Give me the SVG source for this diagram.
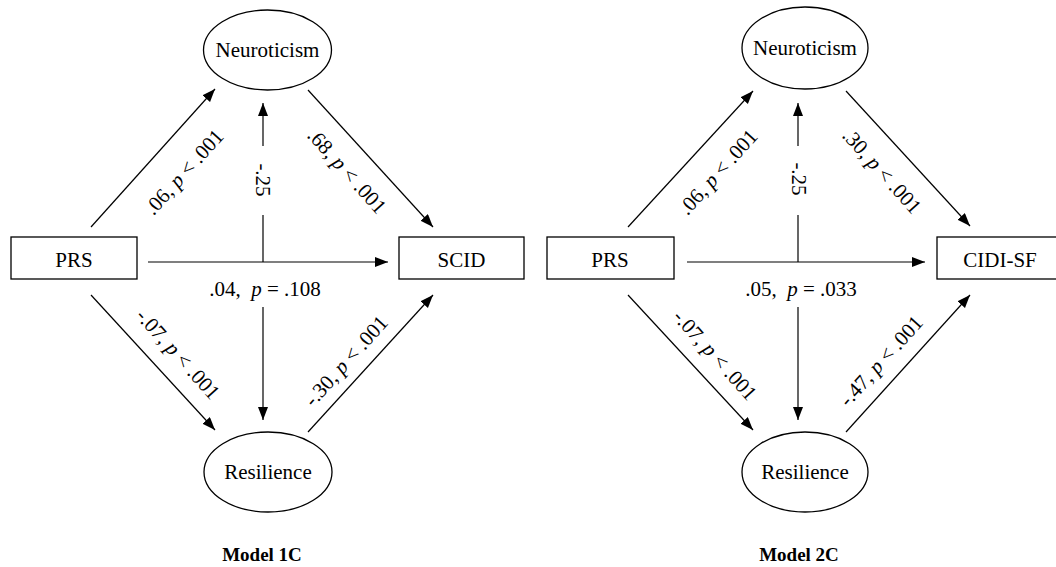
<svg xmlns="http://www.w3.org/2000/svg" width="1056" height="567" viewBox="0 0 1056 567">
  <style>
    .shape { fill: #fff; stroke: #000; stroke-width: 1.3; }
    .node-text { font-family: "Liberation Serif", "Times New Roman", serif; font-size: 21px; fill: #000; text-anchor: middle; }
    .lbl { font-family: "Liberation Serif", "Times New Roman", serif; font-size: 21px; fill: #000; text-anchor: middle; white-space: pre; }
    .it { font-style: italic; }
    .title { font-family: "Liberation Serif", "Times New Roman", serif; font-size: 19px; font-weight: bold; fill: #000; text-anchor: middle; }
    .edge { stroke: #000; stroke-width: 1.2; fill: none; }
    .arrow { marker-end: url(#head); }
  </style>
  <defs>
    <marker id="head" markerUnits="userSpaceOnUse" markerWidth="14" markerHeight="11" refX="13" refY="5" orient="auto">
      <path d="M0,0 L13,5 L0,10 z" fill="#000"/>
    </marker>
  </defs>
  <rect width="1056" height="567" fill="#fff"/>

  <!-- Model 1C -->
  <g id="model1">
    <g id="m1-connectors">
      <line class="edge arrow" x1="91" y1="227" x2="215" y2="89"/>
      <line class="edge arrow" x1="308" y1="90" x2="433" y2="227"/>
      <line class="edge arrow" x1="91" y1="295" x2="215" y2="430"/>
      <line class="edge arrow" x1="308" y1="432" x2="433" y2="295"/>
      <line class="edge arrow" x1="148" y1="262" x2="388" y2="262"/>
      <line class="edge" x1="263" y1="262" x2="263" y2="215"/>
      <line class="edge arrow" x1="263" y1="146" x2="263" y2="103"/>
      <line class="edge arrow" x1="263" y1="307" x2="263" y2="420"/>
      <text class="lbl" transform="translate(184,172) rotate(-48)" y="7">.06, <tspan class="it">p</tspan> &lt; .001</text>
      <text class="lbl" transform="translate(347,171) rotate(48)" y="7">.68, <tspan class="it">p</tspan> &lt; .001</text>
      <text class="lbl" transform="translate(178,354) rotate(48)" y="7">-.07, <tspan class="it">p</tspan> &lt; .001</text>
      <text class="lbl" transform="translate(346,361) rotate(-48)" y="7">-.30, <tspan class="it">p</tspan> &lt; .001</text>
      <text class="lbl" transform="translate(263,180) rotate(90)" y="7">-.25</text>
      <text class="lbl" x="265" y="296" xml:space="preserve">.04,  <tspan class="it">p</tspan> = .108</text>
    </g>
    <g id="m1-neuroticism">
      <ellipse class="shape" cx="267.5" cy="50" rx="64" ry="40"/>
      <text class="node-text" x="267.5" y="57">Neuroticism</text>
    </g>
    <g id="m1-resilience">
      <ellipse class="shape" cx="268" cy="472" rx="64" ry="40"/>
      <text class="node-text" x="268" y="479">Resilience</text>
    </g>
    <g id="m1-prs">
      <rect class="shape" x="11" y="237" width="126" height="42"/>
      <text class="node-text" x="74" y="267">PRS</text>
    </g>
    <g id="m1-scid">
      <rect class="shape" x="399" y="237" width="125" height="42"/>
      <text class="node-text" x="461.5" y="267">SCID</text>
    </g>
    <text id="m1-title" class="title" x="262" y="561">Model 1C</text>
  </g>

  <!-- Model 2C -->
  <g id="model2">
    <g id="m2-connectors">
      <line class="edge arrow" x1="628" y1="227" x2="753" y2="91"/>
      <line class="edge arrow" x1="846" y1="91" x2="970" y2="226"/>
      <line class="edge arrow" x1="628" y1="295" x2="753" y2="430"/>
      <line class="edge arrow" x1="846" y1="432" x2="970" y2="295"/>
      <line class="edge arrow" x1="687" y1="262" x2="925" y2="262"/>
      <line class="edge" x1="798" y1="262" x2="798" y2="215"/>
      <line class="edge arrow" x1="798" y1="146" x2="798" y2="103"/>
      <line class="edge arrow" x1="798" y1="307" x2="798" y2="420"/>
      <text class="lbl" transform="translate(718,172) rotate(-48)" y="7">.06, <tspan class="it">p</tspan> &lt; .001</text>
      <text class="lbl" transform="translate(882,171) rotate(48)" y="7">.30, <tspan class="it">p</tspan> &lt; .001</text>
      <text class="lbl" transform="translate(715,355) rotate(48)" y="7">-.07, <tspan class="it">p</tspan> &lt; .001</text>
      <text class="lbl" transform="translate(881,361) rotate(-48)" y="7">-.47, <tspan class="it">p</tspan> &lt; .001</text>
      <text class="lbl" transform="translate(799,179) rotate(90)" y="7">-.25</text>
      <text class="lbl" x="801" y="296" xml:space="preserve">.05,  <tspan class="it">p</tspan> = .033</text>
    </g>
    <g id="m2-neuroticism">
      <ellipse class="shape" cx="805" cy="48" rx="63" ry="41"/>
      <text class="node-text" x="805" y="55">Neuroticism</text>
    </g>
    <g id="m2-resilience">
      <ellipse class="shape" cx="805" cy="472" rx="63" ry="40"/>
      <text class="node-text" x="805" y="479">Resilience</text>
    </g>
    <g id="m2-prs">
      <rect class="shape" x="547" y="237" width="127" height="42"/>
      <text class="node-text" x="610" y="267">PRS</text>
    </g>
    <g id="m2-cidi">
      <rect class="shape" x="937" y="237" width="126" height="42"/>
      <text class="node-text" x="1000" y="267">CIDI-SF</text>
    </g>
    <text id="m2-title" class="title" x="799" y="561">Model 2C</text>
  </g>
</svg>
